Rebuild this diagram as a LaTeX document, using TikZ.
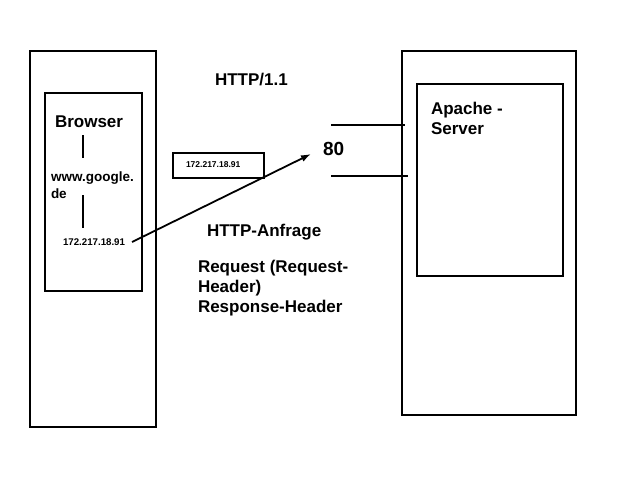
\documentclass[tikz,border=0pt]{standalone}
\usepackage{fontspec}
\setmainfont{Liberation Sans}
\usetikzlibrary{arrows.meta}

\begin{document}
\begin{tikzpicture}[x=1pt,y=-1pt,line width=2pt,
  box/.style={line width=2.5pt},
  lbl/.style={inner sep=0pt,font=\bfseries\fontsize{17}{20}\selectfont},
  small/.style={inner sep=0pt,font=\bfseries\fontsize{13.5}{16.5}\selectfont},
  tiny/.style={inner sep=0pt,font=\bfseries\fontsize{9.7}{11}\selectfont}]
\useasboundingbox (0,0) rectangle (640,480);
% client side
\draw[box] (30,51) rectangle (156,427);
\draw[box] (45,93) rectangle (142,291);
\node[lbl,anchor=west] (browser) at (54,122) {Browser};
\node[small,anchor=north west,align=left] (google) at (50,171) {www.google.\\de};
\node[tiny,anchor=west] (ip) at (62,242) {172.217.18.91};
\draw (83,135) -- (83,158);
\draw (83,195) -- (83,228);
% dns box
\draw[box] (173,153) rectangle (264,178);
\node[tiny,anchor=west,font=\bfseries\fontsize{8.5}{10}\selectfont] (dns) at (185,165) {172.217.18.91};
% middle labels
\node[lbl,anchor=west] (proto) at (214,80) {HTTP/1.1};
\node[lbl,anchor=west,font=\bfseries\fontsize{19}{22}\selectfont] (port) at (322,149) {80};
\node[lbl,anchor=west] (anfrage) at (206,232) {HTTP-Anfrage};
\node[lbl,anchor=north west,align=left] (header) at (197,259) {Request (Request-\\Header)\\Response-Header};
% server side
\draw[box] (402,51) rectangle (576,415);
\draw[box] (417,84) rectangle (563,276);
\node[lbl,anchor=north west,align=left] (apache) at (430,101) {Apache -\\Server};
\coordinate (p1) at (331,125);
\coordinate (p2) at (331,176);
\draw (p1) -- (405,125);
\draw (p2) -- (408,176);
% request
\coordinate (tip) at (311,154);
\draw[line width=1.8pt,-{Latex[length=10pt,width=7pt]}] ([xshift=6pt]ip.east) -- (tip);
\end{tikzpicture}
\end{document}
